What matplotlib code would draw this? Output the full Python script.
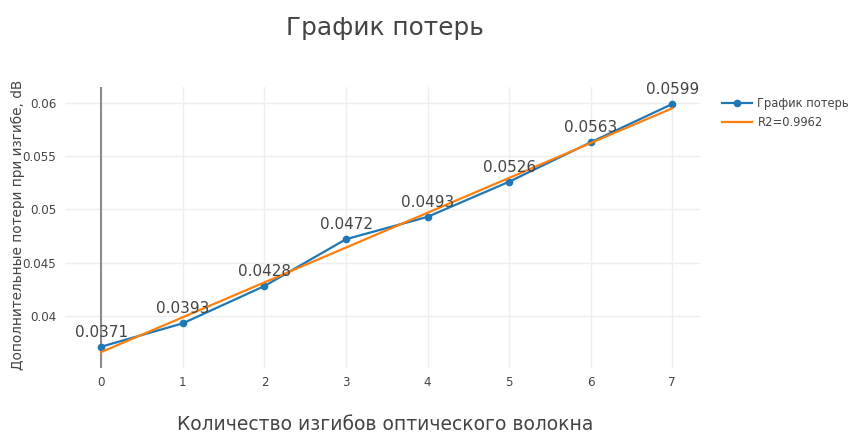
import numpy as np
import matplotlib
matplotlib.use("Agg")
import matplotlib.pyplot as plt

plt.rcParams['font.family'] = ['DejaVu Sans']

# данные
bends = [0, 1, 2, 3, 4, 5, 6, 7]
losses = [0.0371, 0.0393, 0.0428, 0.0472, 0.0493, 0.0526, 0.0563, 0.0599]
labels = ['0.0371', '0.0393', '0.0428', '0.0472', '0.0493', '0.0526', '0.0563', '0.0599']
fit_x = [0, 7]
fit_y = [0.0366, 0.0595]
fit_name = 'R2=0.9962'
y_ticks = [0.04, 0.045, 0.05, 0.055, 0.06]
y_ticklabels = ['0.04', '0.045', '0.05', '0.055', '0.06']

fig = plt.figure(figsize=(8.62, 4.36), dpi=100)
ax = fig.add_axes([0.075, 0.156, 0.737, 0.6445])

ax.plot(bends, losses, color='#1f77b4', lw=1.6, marker='o', ms=4.5, label='График потерь', zorder=3)
ax.plot(fit_x, fit_y, color='#ff7f0e', lw=1.6, label=fit_name, zorder=4)

for x, y, t in zip(bends, losses, labels):
    ax.annotate(t, (x, y), xytext=(0, 5), textcoords='offset points',
                ha='center', va='bottom', fontsize=11, color='#444444', zorder=5)

# нулевая линия по x
ax.axvline(0, color='#8c8c8c', lw=1.5, zorder=2)

ax.set_xlim(-0.45, 7.34)
ax.set_ylim(0.0351, 0.0615)
ax.set_xticks(bends)
ax.set_yticks(y_ticks)
ax.set_yticklabels(y_ticklabels)
ax.grid(True, color='#eeeeee', lw=1)
ax.set_axisbelow(True)
for s in ax.spines.values():
    s.set_visible(False)
ax.tick_params(length=0, labelsize=8.6, colors='#444444', pad=6)

fig.text(0.021, 0.484, 'Дополнительные потери при изгибе, dB', rotation=90,
         ha='center', va='center', fontsize=9.8, color='#444444')
fig.text(0.447, 0.936, 'График потерь', ha='center', va='center', fontsize=17.8, color='#444444')
fig.text(0.447, 0.004, 'Количество изгибов оптического волокна', ha='center', va='bottom',
         fontsize=13.5, color='#444444')

ax.legend(loc='upper left', bbox_to_anchor=(1.018, 1.0), frameon=False, fontsize=8.3,
          handlelength=2.6, handletextpad=0.5, labelcolor='#444444')

plt.savefig('out.png', dpi=100)
